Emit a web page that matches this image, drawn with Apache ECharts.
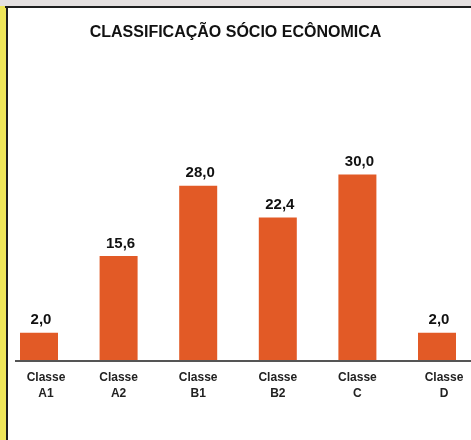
<!DOCTYPE html>
<html>
<head>
<meta charset="utf-8">
<script src="https://cdn.jsdelivr.net/npm/echarts@6/dist/echarts.min.js"></script>
<style>
html,body{margin:0;padding:0;background:#ffffff;}
#chart{width:471px;height:440px;}
</style>
</head>
<body>
<div id="chart"></div>
<script>
var titleText = 'CLASSIFICAÇÃO SÓCIO ECÔNOMICA';
var categories = ['Classe\nA1', 'Classe\nA2', 'Classe\nB1', 'Classe\nB2', 'Classe\nC', 'Classe\nD'];
var values = [2.0, 15.6, 28.0, 22.4, 30.0, 2.0];

var FONT = 'Arial, "Liberation Sans", sans-serif';
var chart = echarts.init(document.getElementById('chart'), null, {renderer: 'canvas'});
var option = {
  backgroundColor: '#ffffff',
  animation: false,
  title: {
    text: titleText,
    left: 'center',
    top: 20,
    textStyle: {fontFamily: FONT, fontSize: 16, fontWeight: 'bold', color: '#111111'}
  },
  grid: {left: 39, right: 34, top: 118, bottom: 79, containLabel: false},
  xAxis: {
    type: 'category',
    data: categories,
    boundaryGap: false,
    axisLine: {show: false},
    axisTick: {show: false},
    splitLine: {show: false},
    axisLabel: {
      interval: 0,
      margin: 9,
      formatter: function (v, i) {
        var parts = v.split('\n');
        var st = (i === 0 || i === categories.length - 1) ? 'r' : 'n';
        return '{' + st + '|' + parts[0] + '}\n{' + st + '|' + parts[1] + '}';
      },
      rich: {
        n: {fontFamily: FONT, fontSize: 12, fontWeight: 'bold', color: '#222222', lineHeight: 16, align: 'center'},
        r: {fontFamily: FONT, fontSize: 12, fontWeight: 'bold', color: '#222222', lineHeight: 16, align: 'center', padding: [0, 0, 0, 14]}
      }
    }
  },
  yAxis: {
    type: 'value',
    min: -3,
    max: 40,
    startValue: -3,
    show: false,
    splitLine: {show: false}
  },
  series: [{
    type: 'bar',
    data: values,
    barWidth: 38,
    clip: false,
    itemStyle: {color: '#E25A26'},
    label: {
      show: true,
      position: 'top',
      distance: 5,
      offset: [2, 0],
      fontFamily: FONT,
      fontSize: 15,
      fontWeight: 'bold',
      color: '#111111',
      formatter: function (p) { return p.value.toFixed(1).replace('.', ','); }
    }
  }],
  graphic: [
    {type: 'rect', shape: {x: 0, y: 0, width: 471, height: 6}, style: {fill: '#e4e0e0'}, z: 100},
    {type: 'rect', shape: {x: 0, y: 6, width: 6, height: 434}, style: {fill: '#efe65a'}, z: 100},
    {type: 'line', shape: {x1: 5, y1: 7, x2: 471, y2: 7}, style: {stroke: '#1e1e1e', lineWidth: 2}, z: 101},
    {type: 'line', shape: {x1: 7, y1: 6, x2: 7, y2: 440}, style: {stroke: '#1e1e1e', lineWidth: 2}, z: 101},
    {type: 'line', shape: {x1: 15, y1: 361, x2: 471, y2: 361}, style: {stroke: '#555555', lineWidth: 2}, z: 101}
  ]
};
chart.setOption(option);
</script>
</body>
</html>
